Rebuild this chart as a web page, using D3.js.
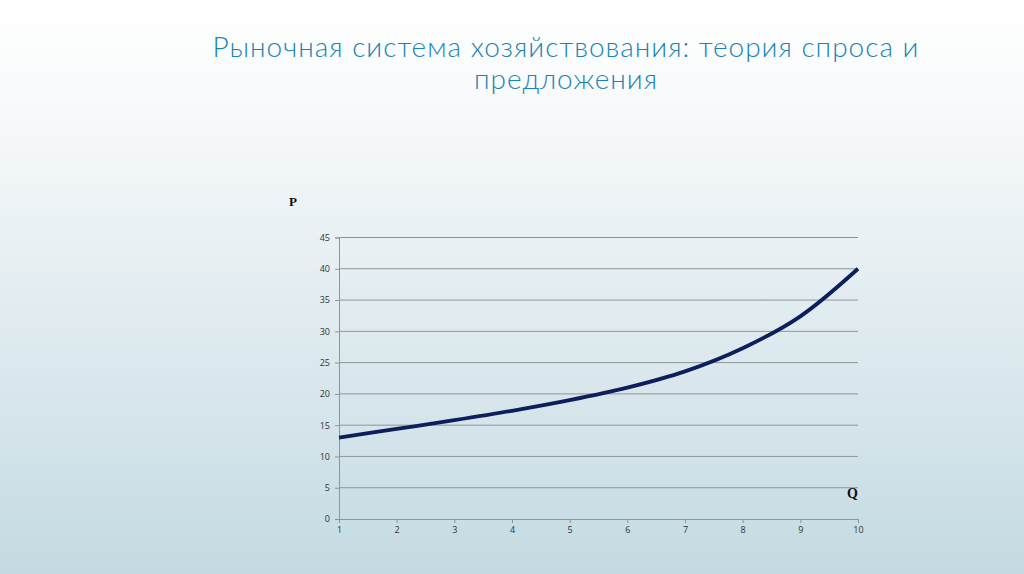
<!DOCTYPE html>
<html>
<head>
<meta charset="utf-8">
<script src="https://cdn.jsdelivr.net/npm/d3@7"></script>
<style>
  html, body { margin: 0; padding: 0; }
  body { width: 1024px; height: 574px; overflow: hidden; }
</style>
</head>
<body>
<div id="chart"></div>
<script>
// values
const quantities = [1, 2, 3, 4, 5, 6, 7, 8, 9, 10];
const prices = [13, 14.4, 15.8, 17.3, 19.0, 21.0, 23.6, 27.3, 32.4, 40];
const yTicks = [0, 5, 10, 15, 20, 25, 30, 35, 40, 45];
const titleLines = ["Рыночная система хозяйствования: теория спроса и", "предложения"];

const width = 1024, height = 574;
const svg = d3.select("#chart").append("svg")
  .attr("width", width)
  .attr("height", height);

// slide background
const defs = svg.append("defs");
const grad = defs.append("linearGradient")
  .attr("id", "bg")
  .attr("x1", 0).attr("y1", 0).attr("x2", 0).attr("y2", 1);
grad.append("stop").attr("offset", "0%").attr("stop-color", "#ffffff");
grad.append("stop").attr("offset", "18%").attr("stop-color", "#f8fafb");
grad.append("stop").attr("offset", "100%").attr("stop-color", "#c4dae2");
svg.append("rect")
  .attr("width", width).attr("height", height)
  .attr("fill", "url(#bg)");

// title
svg.append("g").selectAll("text")
  .data(titleLines)
  .enter().append("text")
  .attr("x", 566)
  .attr("y", (d, i) => 57 + i * 32)
  .attr("text-anchor", "middle")
  .attr("font-family", "Lato, 'Open Sans', sans-serif")
  .attr("font-weight", 300)
  .attr("font-size", "28px")
  .attr("letter-spacing", "1px")
  .attr("fill", "#1884b4")
  .text(d => d);

const x = d3.scaleLinear().domain([1, 10]).range([339, 858]);
const y = d3.scaleLinear().domain([0, 45]).range([519, 237.5]);

// gridlines
svg.append("g").selectAll("line")
  .data(yTicks.filter(d => d > 0))
  .enter().append("line")
  .attr("x1", x(1)).attr("x2", x(10))
  .attr("y1", d => y(d)).attr("y2", d => y(d))
  .attr("stroke", "#8e9598")
  .attr("stroke-width", 1);

// y axis
const yAxis = svg.append("g")
  .attr("transform", `translate(${x(1)},0)`)
  .call(d3.axisLeft(y).tickValues(yTicks).tickSize(4).tickPadding(5));
yAxis.select(".domain").attr("stroke", "#8e9598");
yAxis.selectAll(".tick line").attr("stroke", "#8e9598");
yAxis.selectAll("text")
  .attr("font-family", "'Open Sans', sans-serif")
  .attr("font-size", "9px")
  .attr("fill", "#333");

// x axis
const xAxis = svg.append("g")
  .attr("transform", `translate(0,${y(0)})`)
  .call(d3.axisBottom(x).tickValues(quantities).tickSize(4).tickSizeOuter(0).tickPadding(4));
xAxis.select(".domain").attr("stroke", "#8e9598");
xAxis.selectAll(".tick line").attr("stroke", "#8e9598");
xAxis.selectAll("text")
  .attr("font-family", "'Open Sans', sans-serif")
  .attr("font-size", "9px")
  .attr("fill", "#333");

// supply curve
const line = d3.line()
  .x((d, i) => x(quantities[i]))
  .y(d => y(d))
  .curve(d3.curveCatmullRom.alpha(0.5));

svg.append("path")
  .datum(prices)
  .attr("d", line)
  .attr("fill", "none")
  .attr("stroke", "#0c1f5c")
  .attr("stroke-width", 3.8);

// axis letters
svg.append("text")
  .attr("x", 289).attr("y", 206)
  .attr("font-family", "'Liberation Serif', 'DejaVu Serif', serif")
  .attr("font-weight", "bold")
  .attr("font-size", "13px")
  .attr("fill", "#111")
  .text("P");

svg.append("text")
  .attr("x", 847).attr("y", 498)
  .attr("font-family", "'Liberation Serif', 'DejaVu Serif', serif")
  .attr("font-weight", "bold")
  .attr("font-size", "14px")
  .attr("fill", "#111")
  .text("Q");
</script>
</body>
</html>
